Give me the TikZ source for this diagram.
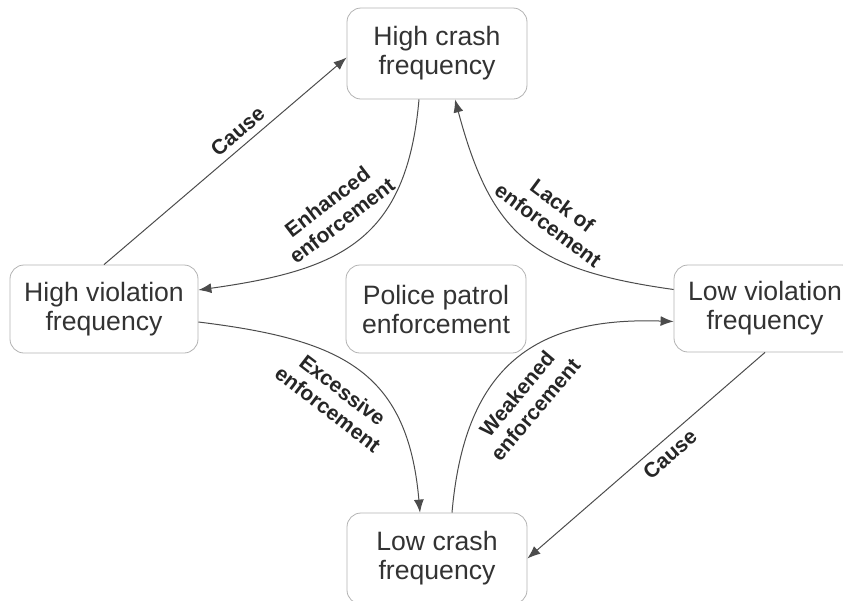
\documentclass[tikz,border=0pt]{standalone}
\usepackage{fontspec}
\setmainfont{Liberation Sans}
\usetikzlibrary{arrows.meta}

\begin{document}
\begin{tikzpicture}[x=0.5pt, y=-0.5pt,
  box/.style={draw=gray!60, rounded corners=7pt, align=center, text=black!80,
    minimum width=90pt, minimum height=45.5pt, inner sep=0pt,
    font=\fontsize{13.3}{14.5}\selectfont},
  link/.style={draw=black!70, line width=0.5pt,
    -{Latex[length=6.5pt, width=5pt]}},
  lbl/.style={sloped, align=center, text=black!85,
    font=\fontsize{10.5}{12}\selectfont\bfseries}]
  \useasboundingbox (0, 0) rectangle (843, 601);
  \clip (0, 0) rectangle (843, 601);
  % states
  \node[box] (hicrash) at (437, 53.5) {High crash\\frequency};
  \node[box, minimum width=94pt, minimum height=44pt] (hiviol) at (104, 309)
    {High violation\\frequency};
  \node[box, minimum height=44pt] (patrol) at (436, 309)
    {Police patrol\\enforcement};
  \node[box, minimum width=91pt, minimum height=43.5pt] (loviol) at (765, 308.5)
    {Low violation\\frequency};
  \node[box] (locrash) at (437, 558.5) {Low crash\\frequency};
  % causes
  \draw[link] (hiviol.north) -- node[lbl, above, pos=0.59] {Cause}
    ([yshift=-2pt]hicrash.west);
  \draw[link] (loviol.south) -- node[lbl, below, pos=0.44] {Cause}
    (locrash.east);
  % enforcement loop
  \draw[link] ([xshift=-9pt]hicrash.south) to[out=-95, in=8, looseness=1.25]
    node[lbl, above=5pt, pos=0.5] {Enhanced\\enforcement} ([yshift=9.5pt]hiviol.east);
  \draw[link] ([yshift=9.5pt]loviol.west) to[out=172, in=-75, looseness=1.25]
    node[lbl, above=5pt, pos=0.46] {Lack of\\enforcement} ([xshift=9pt]hicrash.south);
  \draw[link] ([yshift=-6.5pt]hiviol.east) to[out=-7, in=95, looseness=1.25]
    node[lbl, below=5pt, pos=0.5] {Excessive\\enforcement} ([xshift=-8.5pt]locrash.north);
  \draw[link] ([xshift=7.5pt]locrash.north) to[out=85, in=178, looseness=1.25]
    node[lbl, below=5pt, pos=0.42] {Weakened\\enforcement} ([yshift=-6.5pt]loviol.west);
\end{tikzpicture}
\end{document}
